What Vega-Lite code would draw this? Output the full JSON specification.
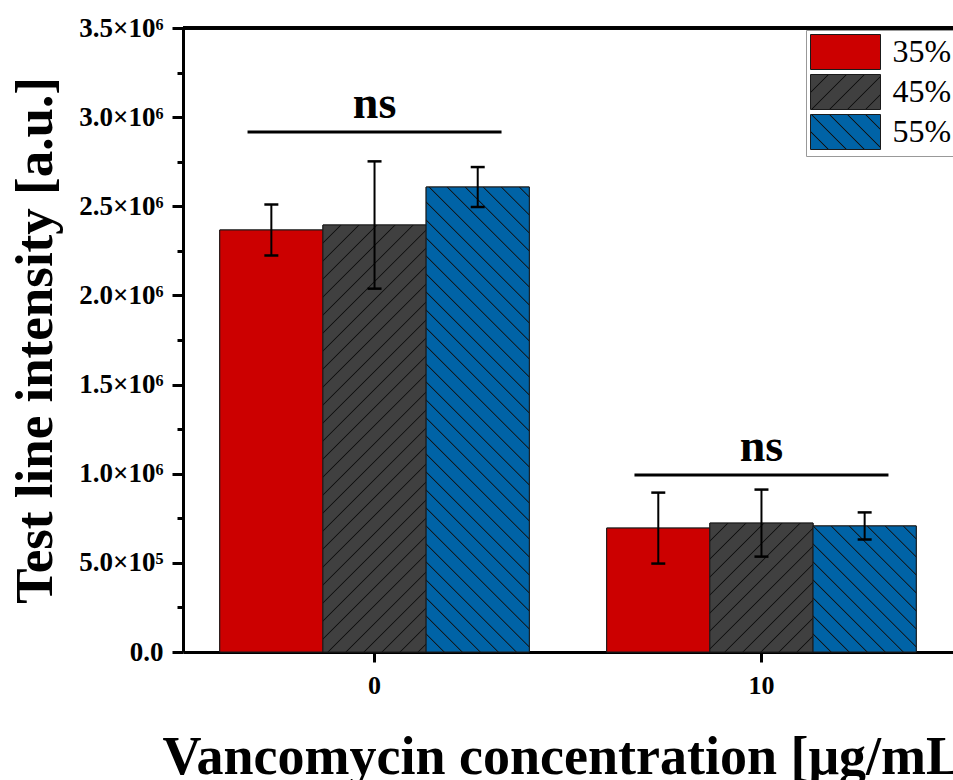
{
  "$schema": "https://vega.github.io/schema/vega-lite/v6.json",
  "autosize": "none",
  "width": 770,
  "height": 624,
  "padding": {"left": 183, "top": 28, "right": 0, "bottom": 128},
  "background": "white",
  "config": {
    "view": {"stroke": null},
    "font": "Liberation Serif"
  },
  "params": [
    {"name": "hg", "value": [
      {"offset":0.0274,"color":"#404040"},{"offset":0.0294,"color":"#111111"},{"offset":0.0314,"color":"#404040"},
      {"offset":0.0568,"color":"#404040"},{"offset":0.0588,"color":"#111111"},{"offset":0.0608,"color":"#404040"},
      {"offset":0.0862,"color":"#404040"},{"offset":0.0882,"color":"#111111"},{"offset":0.0902,"color":"#404040"},
      {"offset":0.1156,"color":"#404040"},{"offset":0.1176,"color":"#111111"},{"offset":0.1196,"color":"#404040"},
      {"offset":0.1451,"color":"#404040"},{"offset":0.1471,"color":"#111111"},{"offset":0.1491,"color":"#404040"},
      {"offset":0.1745,"color":"#404040"},{"offset":0.1765,"color":"#111111"},{"offset":0.1785,"color":"#404040"},
      {"offset":0.2039,"color":"#404040"},{"offset":0.2059,"color":"#111111"},{"offset":0.2079,"color":"#404040"},
      {"offset":0.2333,"color":"#404040"},{"offset":0.2353,"color":"#111111"},{"offset":0.2373,"color":"#404040"},
      {"offset":0.2627,"color":"#404040"},{"offset":0.2647,"color":"#111111"},{"offset":0.2667,"color":"#404040"},
      {"offset":0.2921,"color":"#404040"},{"offset":0.2941,"color":"#111111"},{"offset":0.2961,"color":"#404040"},
      {"offset":0.3215,"color":"#404040"},{"offset":0.3235,"color":"#111111"},{"offset":0.3255,"color":"#404040"},
      {"offset":0.3509,"color":"#404040"},{"offset":0.3529,"color":"#111111"},{"offset":0.3549,"color":"#404040"},
      {"offset":0.3804,"color":"#404040"},{"offset":0.3824,"color":"#111111"},{"offset":0.3844,"color":"#404040"},
      {"offset":0.4098,"color":"#404040"},{"offset":0.4118,"color":"#111111"},{"offset":0.4138,"color":"#404040"},
      {"offset":0.4392,"color":"#404040"},{"offset":0.4412,"color":"#111111"},{"offset":0.4432,"color":"#404040"},
      {"offset":0.4686,"color":"#404040"},{"offset":0.4706,"color":"#111111"},{"offset":0.4726,"color":"#404040"},
      {"offset":0.4980,"color":"#404040"},{"offset":0.5000,"color":"#111111"},{"offset":0.5020,"color":"#404040"},
      {"offset":0.5274,"color":"#404040"},{"offset":0.5294,"color":"#111111"},{"offset":0.5314,"color":"#404040"},
      {"offset":0.5568,"color":"#404040"},{"offset":0.5588,"color":"#111111"},{"offset":0.5608,"color":"#404040"},
      {"offset":0.5862,"color":"#404040"},{"offset":0.5882,"color":"#111111"},{"offset":0.5902,"color":"#404040"},
      {"offset":0.6156,"color":"#404040"},{"offset":0.6176,"color":"#111111"},{"offset":0.6196,"color":"#404040"},
      {"offset":0.6451,"color":"#404040"},{"offset":0.6471,"color":"#111111"},{"offset":0.6491,"color":"#404040"},
      {"offset":0.6745,"color":"#404040"},{"offset":0.6765,"color":"#111111"},{"offset":0.6785,"color":"#404040"},
      {"offset":0.7039,"color":"#404040"},{"offset":0.7059,"color":"#111111"},{"offset":0.7079,"color":"#404040"},
      {"offset":0.7333,"color":"#404040"},{"offset":0.7353,"color":"#111111"},{"offset":0.7373,"color":"#404040"},
      {"offset":0.7627,"color":"#404040"},{"offset":0.7647,"color":"#111111"},{"offset":0.7667,"color":"#404040"},
      {"offset":0.7921,"color":"#404040"},{"offset":0.7941,"color":"#111111"},{"offset":0.7961,"color":"#404040"},
      {"offset":0.8215,"color":"#404040"},{"offset":0.8235,"color":"#111111"},{"offset":0.8255,"color":"#404040"},
      {"offset":0.8509,"color":"#404040"},{"offset":0.8529,"color":"#111111"},{"offset":0.8549,"color":"#404040"},
      {"offset":0.8804,"color":"#404040"},{"offset":0.8824,"color":"#111111"},{"offset":0.8844,"color":"#404040"},
      {"offset":0.9098,"color":"#404040"},{"offset":0.9118,"color":"#111111"},{"offset":0.9138,"color":"#404040"},
      {"offset":0.9392,"color":"#404040"},{"offset":0.9412,"color":"#111111"},{"offset":0.9432,"color":"#404040"},
      {"offset":0.9686,"color":"#404040"},{"offset":0.9706,"color":"#111111"},{"offset":0.9726,"color":"#404040"}
    ]},
    {"name": "hb", "value": [
      {"offset":0.0274,"color":"#0063a6"},{"offset":0.0294,"color":"#111111"},{"offset":0.0314,"color":"#0063a6"},
      {"offset":0.0568,"color":"#0063a6"},{"offset":0.0588,"color":"#111111"},{"offset":0.0608,"color":"#0063a6"},
      {"offset":0.0862,"color":"#0063a6"},{"offset":0.0882,"color":"#111111"},{"offset":0.0902,"color":"#0063a6"},
      {"offset":0.1156,"color":"#0063a6"},{"offset":0.1176,"color":"#111111"},{"offset":0.1196,"color":"#0063a6"},
      {"offset":0.1451,"color":"#0063a6"},{"offset":0.1471,"color":"#111111"},{"offset":0.1491,"color":"#0063a6"},
      {"offset":0.1745,"color":"#0063a6"},{"offset":0.1765,"color":"#111111"},{"offset":0.1785,"color":"#0063a6"},
      {"offset":0.2039,"color":"#0063a6"},{"offset":0.2059,"color":"#111111"},{"offset":0.2079,"color":"#0063a6"},
      {"offset":0.2333,"color":"#0063a6"},{"offset":0.2353,"color":"#111111"},{"offset":0.2373,"color":"#0063a6"},
      {"offset":0.2627,"color":"#0063a6"},{"offset":0.2647,"color":"#111111"},{"offset":0.2667,"color":"#0063a6"},
      {"offset":0.2921,"color":"#0063a6"},{"offset":0.2941,"color":"#111111"},{"offset":0.2961,"color":"#0063a6"},
      {"offset":0.3215,"color":"#0063a6"},{"offset":0.3235,"color":"#111111"},{"offset":0.3255,"color":"#0063a6"},
      {"offset":0.3509,"color":"#0063a6"},{"offset":0.3529,"color":"#111111"},{"offset":0.3549,"color":"#0063a6"},
      {"offset":0.3804,"color":"#0063a6"},{"offset":0.3824,"color":"#111111"},{"offset":0.3844,"color":"#0063a6"},
      {"offset":0.4098,"color":"#0063a6"},{"offset":0.4118,"color":"#111111"},{"offset":0.4138,"color":"#0063a6"},
      {"offset":0.4392,"color":"#0063a6"},{"offset":0.4412,"color":"#111111"},{"offset":0.4432,"color":"#0063a6"},
      {"offset":0.4686,"color":"#0063a6"},{"offset":0.4706,"color":"#111111"},{"offset":0.4726,"color":"#0063a6"},
      {"offset":0.4980,"color":"#0063a6"},{"offset":0.5000,"color":"#111111"},{"offset":0.5020,"color":"#0063a6"},
      {"offset":0.5274,"color":"#0063a6"},{"offset":0.5294,"color":"#111111"},{"offset":0.5314,"color":"#0063a6"},
      {"offset":0.5568,"color":"#0063a6"},{"offset":0.5588,"color":"#111111"},{"offset":0.5608,"color":"#0063a6"},
      {"offset":0.5862,"color":"#0063a6"},{"offset":0.5882,"color":"#111111"},{"offset":0.5902,"color":"#0063a6"},
      {"offset":0.6156,"color":"#0063a6"},{"offset":0.6176,"color":"#111111"},{"offset":0.6196,"color":"#0063a6"},
      {"offset":0.6451,"color":"#0063a6"},{"offset":0.6471,"color":"#111111"},{"offset":0.6491,"color":"#0063a6"},
      {"offset":0.6745,"color":"#0063a6"},{"offset":0.6765,"color":"#111111"},{"offset":0.6785,"color":"#0063a6"},
      {"offset":0.7039,"color":"#0063a6"},{"offset":0.7059,"color":"#111111"},{"offset":0.7079,"color":"#0063a6"},
      {"offset":0.7333,"color":"#0063a6"},{"offset":0.7353,"color":"#111111"},{"offset":0.7373,"color":"#0063a6"},
      {"offset":0.7627,"color":"#0063a6"},{"offset":0.7647,"color":"#111111"},{"offset":0.7667,"color":"#0063a6"},
      {"offset":0.7921,"color":"#0063a6"},{"offset":0.7941,"color":"#111111"},{"offset":0.7961,"color":"#0063a6"},
      {"offset":0.8215,"color":"#0063a6"},{"offset":0.8235,"color":"#111111"},{"offset":0.8255,"color":"#0063a6"},
      {"offset":0.8509,"color":"#0063a6"},{"offset":0.8529,"color":"#111111"},{"offset":0.8549,"color":"#0063a6"},
      {"offset":0.8804,"color":"#0063a6"},{"offset":0.8824,"color":"#111111"},{"offset":0.8844,"color":"#0063a6"},
      {"offset":0.9098,"color":"#0063a6"},{"offset":0.9118,"color":"#111111"},{"offset":0.9138,"color":"#0063a6"},
      {"offset":0.9392,"color":"#0063a6"},{"offset":0.9412,"color":"#111111"},{"offset":0.9432,"color":"#0063a6"},
      {"offset":0.9686,"color":"#0063a6"},{"offset":0.9706,"color":"#111111"},{"offset":0.9726,"color":"#0063a6"}
    ]}
  ],
  "data": {
    "values": [
      {"conc": "0", "group": "35%", "value": 2367000, "low": 2224000, "high": 2510000},
      {"conc": "0", "group": "45%", "value": 2395000, "low": 2038000, "high": 2752000},
      {"conc": "0", "group": "55%", "value": 2608000, "low": 2496000, "high": 2720000},
      {"conc": "10", "group": "35%", "value": 695000, "low": 496000, "high": 894000},
      {"conc": "10", "group": "45%", "value": 723000, "low": 535000, "high": 911000},
      {"conc": "10", "group": "55%", "value": 707000, "low": 631000, "high": 783000}
    ]
  },
  "layer": [
    {
      "mark": {"type": "bar", "stroke": "#1a1a1a", "strokeWidth": 1},
      "encoding": {
        "x": {
          "field": "conc", "type": "nominal", "sort": ["0", "10"],
          "scale": {"paddingInner": 0.2, "paddingOuter": 0.095},
          "axis": {
            "title": "Vancomycin concentration [μg/mL]",
            "titleFont": "Liberation Serif", "titleFontSize": 54, "titleFontWeight": "bold",
            "titleAlign": "left", "titleAnchor": "start", "titleX": -21, "titleY": 121, "titleBaseline": "alphabetic",
            "labelAngle": 0, "labelFont": "Liberation Serif", "labelFontSize": 26, "labelFontWeight": "bold",
            "labelColor": "black", "labelPadding": 10,
            "domainColor": "black", "domainWidth": 3, "tickColor": "black", "tickWidth": 3, "tickSize": 10
          }
        },
        "xOffset": {"field": "group", "type": "nominal", "scale": {"paddingInner": 0, "paddingOuter": 0}},
        "y": {
          "field": "value", "type": "quantitative",
          "scale": {"domain": [0, 3500000], "nice": false},
          "axis": {
            "title": "Test line intensity [a.u.]",
            "titleFont": "Liberation Serif", "titleFontSize": 53, "titleFontWeight": "bold",
            "titleX": -132, "titleY": 312, "titleAngle": -90, "titleAlign": "center", "titleBaseline": "alphabetic",
            "values": [0, 250000, 500000, 750000, 1000000, 1250000, 1500000, 1750000, 2000000, 2250000, 2500000, 2750000, 3000000, 3250000, 3500000],
            "labelExpr": "datum.value == 0 ? '0.0' : (datum.value % 500000 != 0 ? '' : (datum.value < 1000000 ? format(datum.value / 100000, '.1f') + '×10⁵' : format(datum.value / 1000000, '.1f') + '×10⁶'))",
            "labelFont": "Liberation Serif", "labelFontSize": 27, "labelFontWeight": "bold", "labelColor": "black",
            "labelPadding": 9,
            "grid": false,
            "domainColor": "black", "domainWidth": 3, "tickColor": "black", "tickWidth": 3,
            "tickSize": {"condition": {"test": "datum.value % 500000 == 0", "value": 11}, "value": 6}
          }
        },
        "fill": {
          "field": "group", "type": "nominal",
          "scale": {"domain": ["35%", "45%", "55%"], "range": [
            "#cc0000",
            {"expr": "{gradient: 'linear', x1: 0, y1: 0, x2: 6.9943, y2: 3.4971, stops: hg}"},
            {"expr": "{gradient: 'linear', x1: 0, y1: 1, x2: 6.9943, y2: -2.4971, stops: hb}"}
          ]},
          "legend": {
            "title": null, "orient": "none", "legendX": 623, "legendY": 2,
            "symbolType": "M-2,-1H2V1H-2Z", "symbolSize": 1225, "symbolOffset": 17.5,
            "symbolStrokeColor": "#1a1a1a", "symbolStrokeWidth": 1, "symbolOpacity": 1,
            "labelOffset": 29, "labelFont": "Liberation Serif", "labelFontSize": 32, "labelColor": "black",
            "rowPadding": 0, "padding": 4, "strokeColor": "#999999", "fillColor": "white"
          }
        }
      }
    },
    {
      "mark": {
        "type": "bar", "stroke": "#1a1a1a", "strokeWidth": 1,
        "fill": {"expr": "datum.group == '45%' ? {gradient: 'linear', x1: 0, y1: 0, x2: (datum.conc == '0' ? 0.32672 : 2.3133), y2: (datum.conc == '0' ? 1.35444 : 2.8972), stops: hg} : (datum.group == '55%' ? {gradient: 'linear', x1: 0, y1: 1, x2: (datum.conc == '0' ? 0.27789 : 2.3801), y2: (datum.conc == '0' ? -0.25457 : -1.9116), stops: hb} : '#cc0000')"}
      },
      "encoding": {
        "x": {"field": "conc", "type": "nominal", "sort": ["0", "10"]},
        "xOffset": {"field": "group", "type": "nominal"},
        "y": {"field": "value", "type": "quantitative"}
      }
    },
    {
      "mark": {"type": "rule", "color": "black", "strokeWidth": 2},
      "encoding": {
        "x": {"field": "conc", "type": "nominal", "sort": ["0", "10"]},
        "xOffset": {"field": "group", "type": "nominal"},
        "y": {"field": "low", "type": "quantitative"},
        "y2": {"field": "high"}
      }
    },
    {
      "mark": {"type": "tick", "color": "black", "opacity": 1, "size": 14, "thickness": 2.5},
      "encoding": {
        "x": {"field": "conc", "type": "nominal", "sort": ["0", "10"]},
        "xOffset": {"field": "group", "type": "nominal"},
        "y": {"field": "low", "type": "quantitative"}
      }
    },
    {
      "mark": {"type": "tick", "color": "black", "opacity": 1, "size": 14, "thickness": 2.5},
      "encoding": {
        "x": {"field": "conc", "type": "nominal", "sort": ["0", "10"]},
        "xOffset": {"field": "group", "type": "nominal"},
        "y": {"field": "high", "type": "quantitative"}
      }
    },
    {
      "data": {"values": [
        {"conc": "0", "label": "ns", "line": 2916000, "text": 2995000},
        {"conc": "10", "label": "ns", "line": 993000, "text": 1072000}
      ]},
      "layer": [
        {
          "mark": {"type": "tick", "color": "black", "opacity": 1, "size": 254, "thickness": 3},
          "encoding": {
            "x": {"field": "conc", "type": "nominal", "sort": ["0", "10"]},
            "y": {"field": "line", "type": "quantitative"}
          }
        },
        {
          "mark": {"type": "text", "font": "Liberation Serif", "fontSize": 46, "fontWeight": "bold", "baseline": "alphabetic", "align": "center", "color": "black"},
          "encoding": {
            "x": {"field": "conc", "type": "nominal", "sort": ["0", "10"]},
            "y": {"field": "text", "type": "quantitative"},
            "text": {"field": "label"}
          }
        }
      ]
    },
    {
      "mark": {"type": "rule", "color": "black", "strokeWidth": 3},
      "encoding": {"y": {"datum": 3500000, "type": "quantitative"}}
    }
  ]
}
